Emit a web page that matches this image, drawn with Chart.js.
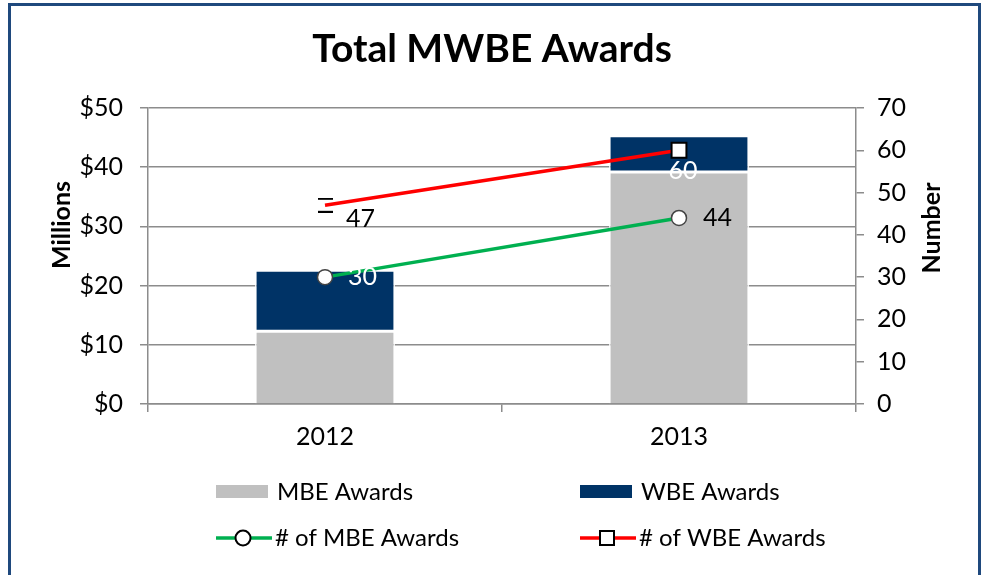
<!DOCTYPE html>
<html><head><meta charset="utf-8">
<script src="https://cdn.jsdelivr.net/npm/chart.js@4.4.1/dist/chart.umd.min.js"></script>
<style>
html,body{margin:0;padding:0;background:#fff;}
#wrap{position:relative;width:984px;height:575px;overflow:hidden;background:#fff;}
#frame{position:absolute;left:8px;top:3px;width:967px;height:640px;border:3px solid #1F497D;pointer-events:none;}
canvas{position:absolute;left:0;top:0;}
</style></head><body>
<div id="wrap"><canvas id="c" width="984" height="575"></canvas><div id="frame"></div></div>
<script>
// ---- data ----
const categories = ['2012', '2013'];
const mbeAwards = [12.3, 39.2];      // $ millions
const wbeAwards = [10.3, 6.1];       // $ millions
const mbeCount = [30, 44];           // number of awards
const wbeCount = [47, 60];
const dollarTicks = ['$0', '$10', '$20', '$30', '$40', '$50'];
const numberTicks = ['0', '10', '20', '30', '40', '50', '60', '70'];
const seriesNames = ['MBE Awards', 'WBE Awards', '# of MBE Awards', '# of WBE Awards'];
const titleText = 'Total MWBE Awards';
const leftAxisTitle = 'Millions';
const rightAxisTitle = 'Number';

// ---- style ----
const FONT = 'Lato, Carlito, "Liberation Sans", sans-serif';
const GRAY = '#C0C0C0', NAVY = '#003366', GREEN = '#00B050', RED = '#FF0000', GRID = '#8C8C8C';

// broken marker seen on the first WBE count point
const brokenMarker = document.createElement('canvas');
brokenMarker.width = 15; brokenMarker.height = 15;
(function(){ const g = brokenMarker.getContext('2d'); g.fillStyle = '#000'; g.fillRect(0,0,15,2); g.fillRect(0,13,15,2); })();

const labelStyle = {
  2: [{dx: 23, dy: 0, color: '#fff', align: 'left'}, {dx: 24, dy: 0, color: '#000', align: 'left'}],
  3: [{dx: 21, dy: 14, color: '#000', align: 'left'}, {dx: 4, dy: 21, color: '#fff', align: 'center'}]
};

const extras = {
  id: 'extras',
  afterDatasetsDraw(chart) {
    const ctx = chart.ctx;
    ctx.save();
    ctx.font = '25px ' + FONT;
    ctx.textBaseline = 'middle';
    [2, 3].forEach(di => {
      const meta = chart.getDatasetMeta(di);
      const vals = chart.data.datasets[di].data;
      meta.data.forEach((el, i) => {
        const s = labelStyle[di][i];
        ctx.fillStyle = s.color;
        ctx.textAlign = s.align;
        ctx.fillText(String(vals[i]), el.x + s.dx, el.y + s.dy);
      });
    });
    ctx.restore();
  },
  afterDraw(chart) {
    const ctx = chart.ctx;
    ctx.save();
    // axis titles
    ctx.font = 'bold 25px ' + FONT;
    ctx.fillStyle = '#000';
    ctx.textAlign = 'center';
    ctx.textBaseline = 'middle';
    ctx.save(); ctx.translate(62, 225); ctx.rotate(-Math.PI/2); ctx.fillText(leftAxisTitle, 0, 0); ctx.restore();
    ctx.save(); ctx.translate(932, 228); ctx.rotate(-Math.PI/2); ctx.fillText(rightAxisTitle, 0, 0); ctx.restore();
    // legend
    ctx.font = '24px ' + FONT;
    ctx.textAlign = 'left';
    const ds = chart.data.datasets;
    const cols = [216, 580];
    const rows = [492, 538];
    // bar entries
    [0, 1].forEach(k => {
      ctx.fillStyle = ds[k].backgroundColor;
      ctx.fillRect(cols[k], rows[0] - 7, 52, 13);
      ctx.fillStyle = '#000';
      ctx.fillText(ds[k].label, cols[k] + 61, rows[0]);
    });
    // line entries
    [2, 3].forEach((k, j) => {
      const x0 = cols[j], y = rows[1];
      ctx.strokeStyle = ds[k].borderColor; ctx.lineWidth = 3.5;
      ctx.beginPath(); ctx.moveTo(x0, y); ctx.lineTo(x0 + 56, y); ctx.stroke();
      ctx.fillStyle = '#fff'; ctx.strokeStyle = '#000'; ctx.lineWidth = 2;
      if (k === 2) { ctx.beginPath(); ctx.arc(x0 + 27, y, 7.5, 0, Math.PI*2); ctx.fill(); ctx.stroke(); }
      else { ctx.fillRect(x0 + 20, y - 7, 14, 14); ctx.strokeRect(x0 + 20, y - 7, 14, 14); }
      ctx.fillStyle = '#000';
      ctx.fillText(ds[k].label, x0 + 59, y);
    });
    ctx.restore();
  }
};

new Chart(document.getElementById('c'), {
  data: {
    labels: categories,
    datasets: [
      { type: 'bar', label: seriesNames[0], data: mbeAwards, backgroundColor: GRAY, borderColor: '#fff', borderWidth: 1.5, borderSkipped: 'bottom', yAxisID: 'y', stack: 's', order: 2, categoryPercentage: 1, barPercentage: 0.395 },
      { type: 'bar', label: seriesNames[1], data: wbeAwards, backgroundColor: NAVY, borderColor: '#fff', borderWidth: 1.5, borderSkipped: false, yAxisID: 'y', stack: 's', order: 2, categoryPercentage: 1, barPercentage: 0.395 },
      { type: 'line', label: seriesNames[2], data: mbeCount, borderColor: GREEN, borderWidth: 3.5, yAxisID: 'y1', order: 1,
        pointStyle: 'circle', pointRadius: 7.5, pointBackgroundColor: '#fff', pointBorderColor: '#444', pointBorderWidth: 1.5 },
      { type: 'line', label: seriesNames[3], data: wbeCount, borderColor: RED, borderWidth: 3.5, yAxisID: 'y1', order: 0,
        pointStyle: [brokenMarker, 'rect'], pointRadius: 10.5, pointBackgroundColor: '#fff', pointBorderColor: '#000', pointBorderWidth: 2 }
    ]
  },
  options: {
    responsive: false,
    animation: false,
    events: [],
    layout: { padding: { top: 108, left: 0, right: 0, bottom: 0 } },
    plugins: { legend: { display: false }, tooltip: { enabled: false }, title: { display: false } },
    scales: {
      x: {
        stacked: true,
        offset: true,
        grid: { display: true, offset: true, drawOnChartArea: false, drawTicks: true, tickLength: 8, color: GRID, lineWidth: 1.5 },
        border: { display: true, color: GRID, width: 1.5 },
        ticks: { color: '#000', font: { family: FONT, size: 25 }, padding: 10 },
        afterFit(s) { s.height = 171; }
      },
      y: {
        position: 'left', stacked: true, min: 0, max: 50,
        grid: { color: GRID, lineWidth: 1.5, tickLength: 8 },
        border: { display: true, color: GRID, width: 1.5 },
        ticks: { stepSize: 10, color: '#000', font: { family: FONT, size: 25 }, padding: 17,
                 callback: (v, i) => dollarTicks[i] },
        afterFit(s) { s.width = 148; }
      },
      y1: {
        position: 'right', min: 0, max: 70,
        grid: { drawOnChartArea: false, color: GRID, lineWidth: 1.5, tickLength: 8 },
        border: { display: true, color: GRID, width: 1.5 },
        ticks: { stepSize: 10, color: '#000', font: { family: FONT, size: 25 }, padding: 13,
                 callback: (v, i) => numberTicks[i] },
        afterFit(s) { s.width = 128; }
      }
    }
  },
  plugins: [extras, {
    id: 'title',
    afterDraw(chart) {
      const ctx = chart.ctx;
      ctx.save();
      ctx.font = 'bold 39px ' + FONT;
      ctx.fillStyle = '#000'; ctx.textAlign = 'center'; ctx.textBaseline = 'middle';
      ctx.fillText(titleText, 492, 49);
      ctx.restore();
    }
  }]
});
</script>
</body></html>
